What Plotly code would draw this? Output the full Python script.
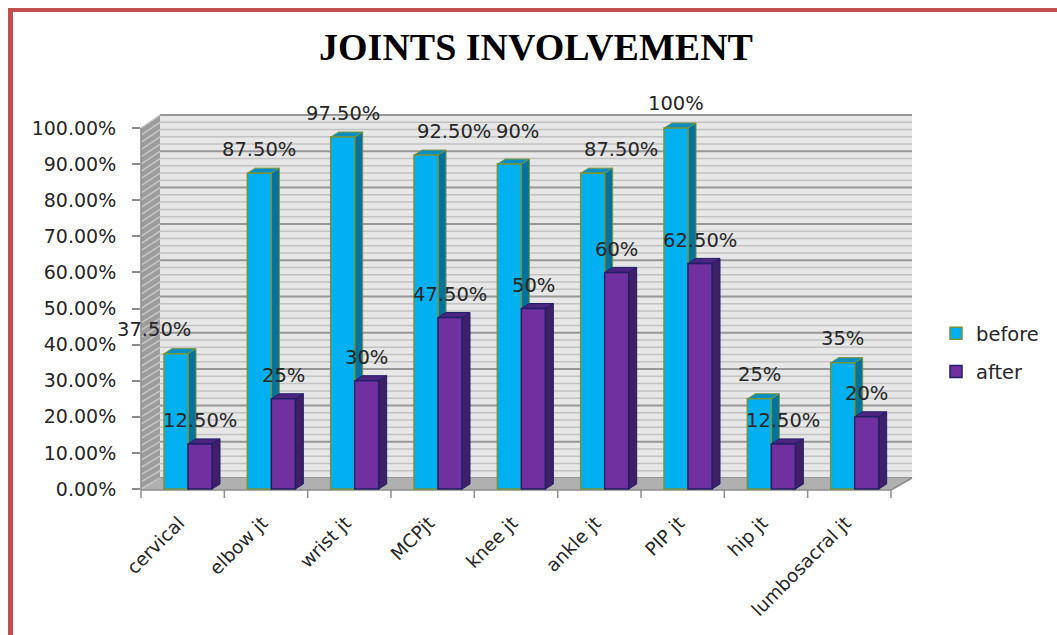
import plotly.graph_objects as go

# ---- data -------------------------------------------------------------
joints = ["cervical", "elbow jt", "wrist jt", "MCPjt", "knee jt",
          "ankle jt", "PIP jt", "hip jt", "lumbosacral jt"]
before = [37.5, 87.5, 97.5, 92.5, 90, 87.5, 100, 25, 35]
after = [12.5, 25, 30, 47.5, 50, 60, 62.5, 12.5, 20]
y_ticks = list(range(0, 101, 10))

# ---- style ------------------------------------------------------------
W, H = 1057, 635
FONT = "DejaVu Sans"
TXT = "#262626"
C_BEFORE = dict(front="#00B0F0", side="#03729C", top="#0A8EC2", edge="#77933C")
C_AFTER = dict(front="#7030A0", side="#3E1F68", top="#4C2482", edge="#1F1F66")

# geometry of the pseudo-3D box (pixels)
FX0, FX1 = 141, 891          # front plane, left/right
F_ZERO, PX_PER_PCT = 489, 3.61
BX0, BX1 = 160, 912          # back wall, left/right
B_ZERO, B_PX_PER_PCT = 478, 3.63
Y_LO, Y_HI = -1, 104

BAR_W = 0.288
OFF_BEFORE, OFF_AFTER = -0.224, 0.064
DEPTH_X = 8 / ((FX1 - FX0) / len(joints))   # bar depth in x units
DEPTH_Y = 5 / PX_PER_PCT                    # bar depth in y units

# nudges Excel applied to a few before-labels to avoid collisions
before_label_dx = [-22, 0, 0, 28, 8, 28, 0, 0, 0]
before_label_dy = [0, 0, 0, 0, 9, 0, 0, 0, 0]


def px(x):
    return x / W


def py(y):
    return 1 - y / H


def front_y(v):
    return F_ZERO - PX_PER_PCT * v


def back_y(v):
    return B_ZERO - B_PX_PER_PCT * v


def pct(v):
    return f"{int(v)}%" if float(v).is_integer() else f"{v:.2f}%"


xs = list(range(len(joints)))
shapes = []


def poly(points, fill, line_color=None, width=0, layer="below"):
    path = "M " + " L ".join(f"{px(a)},{py(b)}" for a, b in points) + " Z"
    shapes.append(dict(type="path", path=path, xref="paper", yref="paper",
                       fillcolor=fill, line=dict(color=line_color or fill, width=width),
                       layer=layer))


def seg(x0, y0, x1, y1, color, width, layer="below"):
    shapes.append(dict(type="line", xref="paper", yref="paper",
                       x0=px(x0), y0=py(y0), x1=px(x1), y1=py(y1),
                       line=dict(color=color, width=width), layer=layer))


# back wall with major / minor gridlines
poly([(BX0, back_y(0)), (BX1, back_y(0)), (BX1, back_y(100)), (BX0, back_y(100))], "#E7E7E7")
for v in range(0, 101, 2):
    major = v % 10 == 0
    seg(BX0, back_y(v), BX1, back_y(v), "#979797" if major else "#C2C2C2", 2 if major else 1.5)

# left side wall with its gridlines running in depth
poly([(FX0, front_y(0) + 1), (FX0, front_y(100)), (BX0, back_y(100)), (BX0, back_y(0))], "#9C9C9C")
for v in range(0, 101, 2):
    seg(FX0, front_y(v), BX0, back_y(v), "#C8C8C8", 1.5)

# floor
poly([(FX0, front_y(0) + 1), (FX1, front_y(0) + 1), (BX1, back_y(0)), (BX0, back_y(0))], "#B0B0B0")

# front axis edges and tick marks
seg(FX0, front_y(0) + 1, FX0, front_y(100), "#8C8C8C", 1.5)
seg(FX0, front_y(0) + 1, FX1, front_y(0) + 1, "#8C8C8C", 1.5)
seg(FX1, front_y(0) + 1, BX1, back_y(0), "#8C8C8C", 1.5)
step = (FX1 - FX0) / len(joints)
for k in range(len(joints) + 1):
    xk = FX0 + k * step
    seg(xk, front_y(0) + 1, xk, front_y(0) + 9, "#8C8C8C", 1.5)

# red frame
seg(10.5, 10, 10.5, H, "#C0504D", 5, layer="above")
seg(8, 10, W, 10, "#C0504D", 4, layer="above")


# 3D side and top faces of each bar, in data coordinates
def bar_faces(values, offset, colors):
    for i, v in enumerate(values):
        x0 = i + offset
        x1 = x0 + BAR_W
        side = (f"M {x1},0 L {x1 + DEPTH_X},{DEPTH_Y} L {x1 + DEPTH_X},{v + DEPTH_Y} "
                f"L {x1},{v} Z")
        top = (f"M {x0},{v} L {x0 + DEPTH_X},{v + DEPTH_Y} L {x1 + DEPTH_X},{v + DEPTH_Y} "
               f"L {x1},{v} Z")
        for path, fill in ((side, colors["side"]), (top, colors["top"])):
            shapes.append(dict(type="path", path=path, xref="x", yref="y",
                               fillcolor=fill, layer="between",
                               line=dict(color=colors["edge"], width=1)))


bar_faces(before, OFF_BEFORE, C_BEFORE)
bar_faces(after, OFF_AFTER, C_AFTER)

fig = go.Figure()
fig.add_trace(go.Bar(
    name="before", x=xs, y=before, width=BAR_W, offset=OFF_BEFORE,
    marker=dict(color=C_BEFORE["front"], line=dict(color=C_BEFORE["edge"], width=1.5)),
    legendgroup="b", hoverinfo="skip"))
fig.add_trace(go.Bar(
    name="after", x=xs, y=after, width=BAR_W, offset=OFF_AFTER,
    marker=dict(color=C_AFTER["front"], line=dict(color=C_AFTER["edge"], width=1.5)),
    legendgroup="a", hoverinfo="skip"))

# value labels above each bar
annotations = []
for i, v in enumerate(before):
    annotations.append(dict(x=i + OFF_BEFORE + BAR_W / 2, y=v, xref="x", yref="y",
                            text=pct(v), showarrow=False, yanchor="middle",
                            xshift=before_label_dx[i], yshift=24 + before_label_dy[i],
                            font=dict(family=FONT, size=19.5, color=TXT)))
for i, v in enumerate(after):
    annotations.append(dict(x=i + OFF_AFTER + BAR_W / 2, y=v, xref="x", yref="y",
                            text=pct(v), showarrow=False, yanchor="middle", yshift=23,
                            font=dict(family=FONT, size=19.5, color=TXT)))

fig.update_layout(
    width=W, height=H,
    margin=dict(l=0, r=0, t=0, b=0),
    paper_bgcolor="white",
    plot_bgcolor="rgba(0,0,0,0)",
    barmode="overlay",
    title=dict(text="<b>JOINTS INVOLVEMENT</b>", x=536 / W, xanchor="center",
               y=py(47), yref="container", yanchor="middle",
               font=dict(family="Liberation Serif", size=38, color="#000000")),
    xaxis=dict(domain=[px(FX0), px(FX1)], range=[-0.5, len(joints) - 0.5],
               tickvals=[i - 0.044 for i in xs], ticktext=joints,
               tickangle=-45, ticks="", showline=False, showgrid=False,
               zeroline=False, ticklabelstandoff=15, automargin=False,
               tickfont=dict(family=FONT, size=18.5, color=TXT)),
    yaxis=dict(domain=[py(front_y(Y_LO)), py(front_y(Y_HI))], range=[Y_LO, Y_HI],
               tickvals=y_ticks, ticktext=[f"{t:.2f}%" for t in y_ticks],
               ticks="outside", ticklen=8, tickwidth=1.5, tickcolor="#8C8C8C",
               showline=False, showgrid=False, zeroline=False, ticklabelstandoff=12,
               automargin=False,
               tickfont=dict(family=FONT, size=19, color=TXT)),
    legend=dict(x=px(936), y=py(314), xanchor="left", yanchor="top",
                traceorder="grouped", tracegroupgap=10, bgcolor="rgba(0,0,0,0)",
                font=dict(family=FONT, size=19.5, color=TXT)),
    shapes=shapes,
    annotations=annotations,
)

fig.write_html("out.html")
